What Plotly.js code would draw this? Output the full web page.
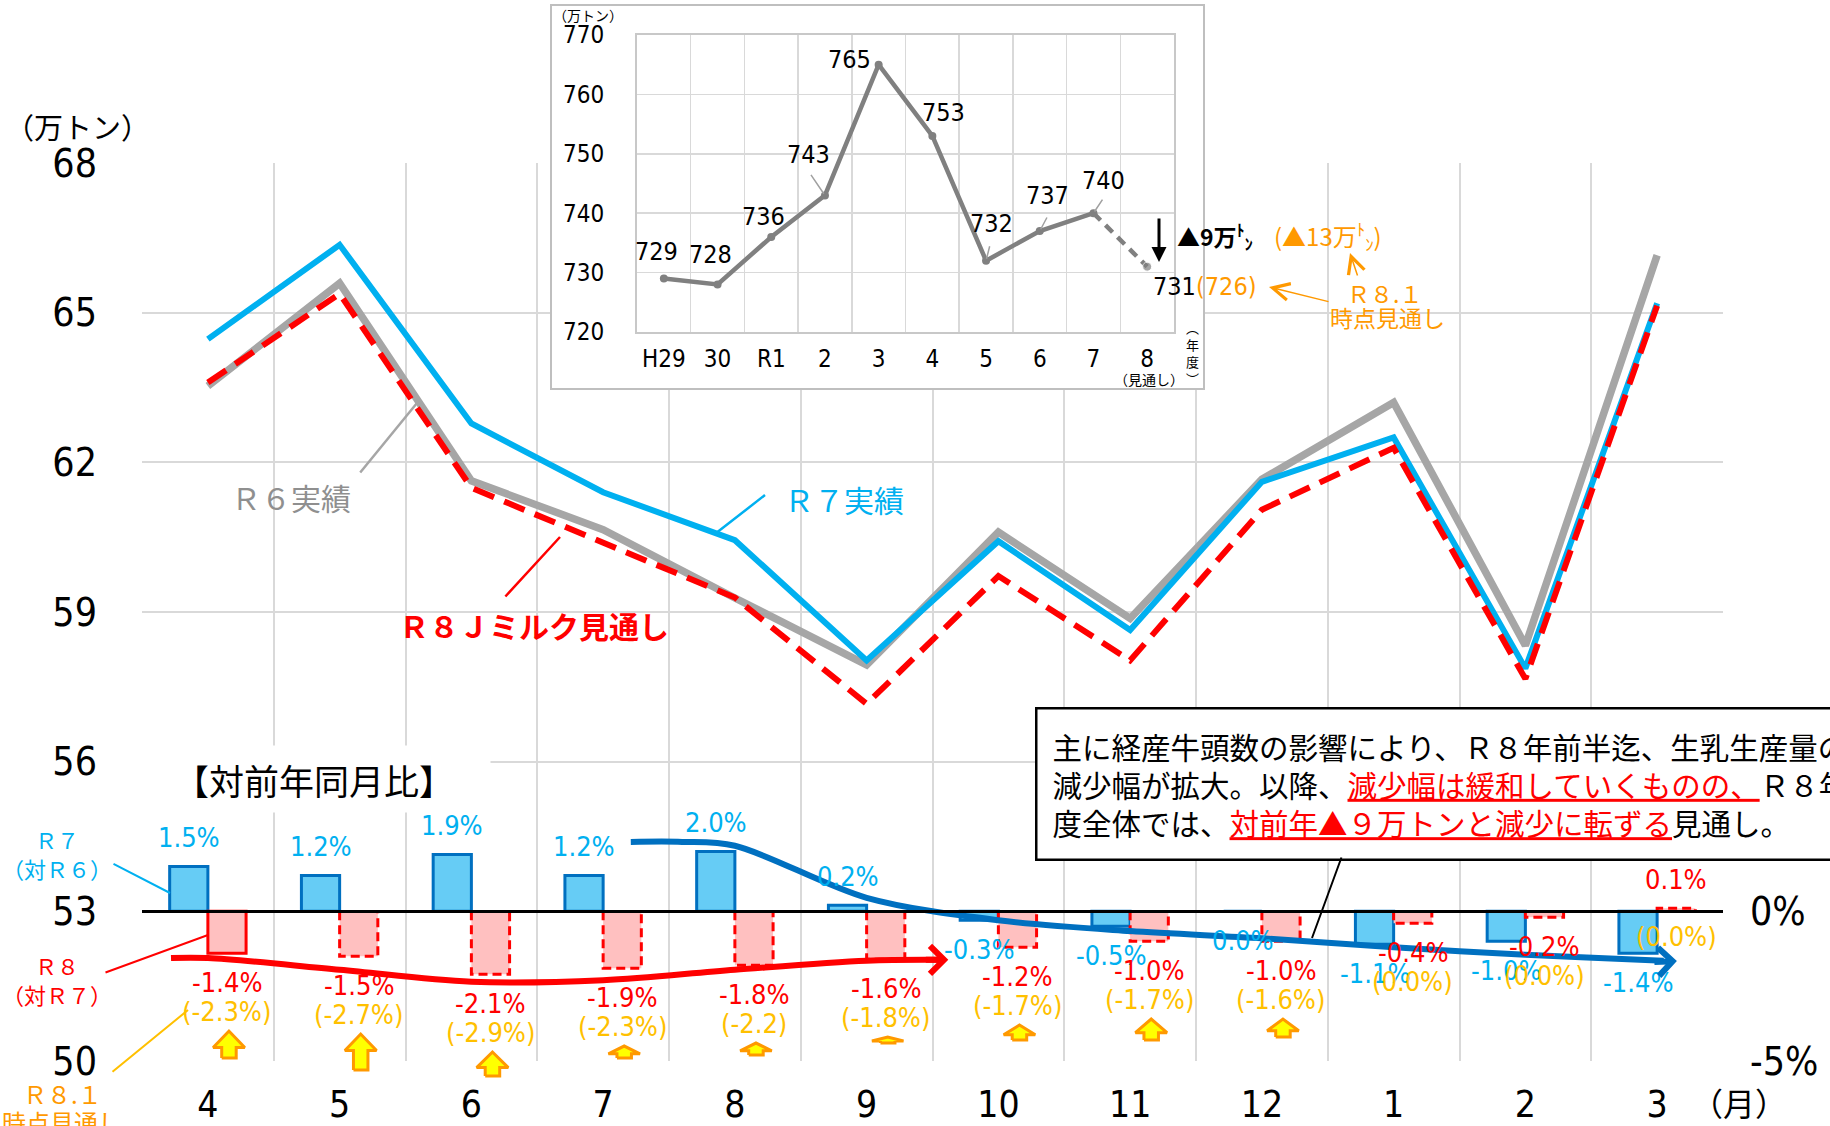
<!DOCTYPE html>
<html><head><meta charset="utf-8">
<script src="https://cdn.plot.ly/plotly-3.0.1.min.js"></script>
<style>html,body{margin:0;padding:0;background:#fff}#chart{width:1830px;height:1126px}</style>
</head><body><div id="chart"></div>
<script>
// ---------------- data ----------------
const months = ['4','5','6','7','8','9','10','11','12','1','2','3'];
const r6Actual   = [63.53,65.59,61.63,60.65,59.28,57.94,60.60,58.87,61.66,63.20,58.33,66.15];
const r7Actual   = [64.47,66.36,62.78,61.40,60.44,58.03,60.42,58.64,61.61,62.50,57.87,65.19];
const r8Forecast = [63.60,65.38,61.49,60.39,59.29,57.16,59.72,58.03,61.05,62.29,57.66,65.14];
const r7vsR6Pct  = [1.5,1.2,1.9,1.2,2.0,0.2,-0.3,-0.5,0.0,-1.1,-1.0,-1.4];
const r8vsR7Pct  = [-1.4,-1.5,-2.1,-1.9,-1.8,-1.6,-1.2,-1.0,-1.0,-0.4,-0.2,0.1];
const r8JanPct   = [-2.3,-2.7,-2.9,-2.3,-2.2,-1.8,-1.7,-1.7,-1.6,0.0,0.0,0.0];
const r8JanLabels = ['(-2.3%)','(-2.7%)','(-2.9%)','(-2.3%)','(-2.2)','(-1.8%)','(-1.7%)','(-1.7%)','(-1.6%)','(0.0%)','(0.0%)','(0.0%)'];
const r8TrendPct = [-1.56,-1.95,-2.35,-2.3,-1.95,-1.65];            // months 4..9
const r7TrendPct = [2.32,2.19,0.45,-0.3,-0.66,-0.9,-1.2,-1.45,-1.64]; // months 7..3
const fiscalYears = ['H29','30','R1','2','3','4','5','6','7','8'];
const annualTotal = [729,728,736,743,765,753,732,737,740,731];
const annualR8Jan = 726;

// ---------------- geometry / styles ----------------
const W=1830,H=1126,ML=142,MR=107,MT=4,MB=20;
const PW=W-ML-MR, PH=H-MT-MB, PB=H-MB;
const plotTop=163, plotBot=1061;
const fx=v=>(v-ML)/PW, fy=v=>(PB-v)/PH;
const yDom=[fy(plotBot), fy(plotTop)];
const pctPerPx=30/(plotBot-plotTop);
const y5min=-5-(PB-plotBot)*pctPerPx;
const NARROW='"Liberation Sans Narrow","Arial Narrow","DejaVu Sans Condensed","Noto Sans CJK JP",sans-serif';
const JP='"Noto Sans CJK JP","Noto Sans",sans-serif';
const GRID='#D9D9D9';
const idx=months.map((m,i)=>i);
const bounds=[]; for(let i=-0.5;i<=11.5;i+=1) bounds.push(i);
const idx4=fiscalYears.map((m,i)=>i);
const bounds4=[]; for(let i=-0.5;i<=9.5;i+=1) bounds4.push(i);
const BW=0.29;
const fmt=v=>(v<0?'-':'')+Math.abs(v).toFixed(1)+'%';

const traces=[];
// main lines
traces.push({x:idx,y:r6Actual,type:'scatter',mode:'lines',line:{color:'#A6A6A6',width:7.5},hoverinfo:'skip',name:'R6実績'});
traces.push({x:idx,y:r7Actual,type:'scatter',mode:'lines',line:{color:'#00B0F0',width:6},hoverinfo:'skip',name:'R7実績'});
traces.push({x:idx,y:r8Forecast,type:'scatter',mode:'lines',line:{color:'#FF0000',width:6,dash:'22px,11px'},hoverinfo:'skip',name:'R8見通し'});
// inset white panel
traces.push({x:[0,1,1,0,0],y:[0,0,1,1,0],xaxis:'x3',yaxis:'y3',type:'scatter',mode:'lines',fill:'toself',fillcolor:'#FFFFFF',line:{width:0,color:'#FFFFFF'},hoverinfo:'skip'});
// inset line
traces.push({x:idx4.slice(0,9),y:annualTotal.slice(0,9),xaxis:'x4',yaxis:'y4',type:'scatter',mode:'lines+markers',line:{color:'#808080',width:4.5},marker:{color:'#808080',size:8},hoverinfo:'skip'});
traces.push({x:idx4.slice(8),y:annualTotal.slice(8),xaxis:'x4',yaxis:'y4',type:'scatter',mode:'lines+markers',line:{color:'#808080',width:4.5,dash:'10px,7px'},marker:{color:'#808080',size:[0,9]},hoverinfo:'skip'});
// bars
traces.push({x:idx,y:r7vsR6Pct,yaxis:'y2',type:'bar',offset:-BW,width:BW,marker:{color:'#66CCF5',line:{color:'#0070C0',width:3}},hoverinfo:'skip'});
traces.push({x:idx,y:r8vsR7Pct,yaxis:'y2',type:'bar',offset:0,width:BW,marker:{color:'#FFC0C0',line:{color:'#FF0000',width:idx.map(i=>i===0?3:0)}},hoverinfo:'skip'});
// dashed outlines of forecast bars
const ox=[],oy=[];
r8vsR7Pct.forEach((v,i)=>{ if(i===0) return; ox.push(i,i,i+BW,i+BW,null); oy.push(0,v,v,0,null); });
traces.push({x:ox,y:oy,yaxis:'y2',type:'scatter',mode:'lines',line:{color:'#FF0000',width:3,dash:'9px,5px'},connectgaps:false,hoverinfo:'skip'});
// trend curves
traces.push({x:[-0.28,0,1,2,3,4,5,5.55],y:[r8TrendPct[0]].concat(r8TrendPct,[r8TrendPct[5]+0.03]),yaxis:'y2',type:'scatter',mode:'lines',line:{color:'#FF0000',width:6,shape:'spline',smoothing:1},hoverinfo:'skip'});
traces.push({x:[3.21,3.6,4,5,6,7,8,9,10,11,11.05],y:[r7TrendPct[0],r7TrendPct[0]].concat(r7TrendPct.slice(1),[r7TrendPct[8]-0.01]),yaxis:'y2',type:'scatter',mode:'lines',line:{color:'#0070C0',width:6,shape:'spline',smoothing:0.9},hoverinfo:'skip'});
// orange up arrows (change from R8.1 forecast)
const axs=[],ays=[];
r8vsR7Pct.forEach((v,i)=>{
  const f=r8JanPct[i];
  if(!(f<0 && v>f)) return;
  const base=f-2.6, tip=v-2.6, h=tip-base;
  const hh=Math.min(0.55,h*0.65), cx=i+0.16, sw=0.055, hw=0.12;
  axs.push(cx-sw,cx-sw,cx-hw,cx,cx+hw,cx+sw,cx+sw,cx-sw,null);
  ays.push(base,tip-hh,tip-hh,tip,tip-hh,tip-hh,base,base,null);
});
traces.push({x:axs,y:ays,xaxis:'x5',yaxis:'y5',type:'scatter',mode:'lines',fill:'toself',fillcolor:'#FFFF00',line:{color:'#FF9900',width:3},connectgaps:false,hoverinfo:'skip'});

// ---------------- annotations ----------------
const ann=[];
function txt(x,y,text,size,color,extra){ann.push(Object.assign({xref:'paper',yref:'paper',x:fx(x),y:fy(y),text:text,showarrow:false,xanchor:'center',yanchor:'middle',font:{family:JP,size:size,color:color}},extra||{}));}
function lead(x1,y1,x2,y2,color,width,head,size){ann.push({xref:'paper',yref:'paper',x:fx(x2),y:fy(y2),ax:x1-x2,ay:y1-y2,axref:'pixel',ayref:'pixel',text:'',showarrow:true,arrowhead:head||0,arrowsize:size||1,arrowcolor:color,arrowwidth:width,standoff:0,startstandoff:0});}

txt(77,126,'（万トン）',29,'#000');
txt(1739,1102,'（月）',32,'#000');
txt(291,497,'Ｒ６実績',30,'#8F8F8F');
lead(359,474,417,403,'#A6A6A6',2.5);
txt(844,499,'Ｒ７実績',30,'#00B0F0');
lead(715,534,765,495,'#00B0F0',2.5);
txt(534,625,'<b>Ｒ８Ｊミルク見通し</b>',30,'#FF0000');
lead(504,598,560,537,'#FF0000',2.5);
txt(314,779,'【対前年同月比】',35,'#000',{width:352,height:66,bgcolor:'#FFFFFF',borderpad:0});
txt(57,853,'Ｒ７<br>（対Ｒ６）',22,'#00B0F0');
lead(112,863,170,893,'#00B0F0',2);
txt(57,979,'Ｒ８<br>（対Ｒ７）',22,'#FF0000');
lead(104,973,208,935,'#FF0000',2);
txt(62,1093,'Ｒ８.１',24,'#FF9900');
txt(62,1121,'時点見通し',24,'#FF9900');
lead(111,1073,188,1010,'#FFC000',2);
// text box
ann.push({xref:'paper',yref:'paper',x:fx(1035),y:fy(707),xanchor:'left',yanchor:'top',align:'left',showarrow:false,
  text:'主に経産牛頭数の影響により、Ｒ８年前半迄、生乳生産量の<br>減少幅が拡大。以降、<span style="color:#FF0000"><u>減少幅は緩和していくものの、</u></span>Ｒ８年<br>度全体では、<span style="color:#FF0000"><u>対前年▲９万トンと減少に転ずる</u></span>見通し。',
  font:{family:JP,size:29.5,color:'#000'},bgcolor:'#FFFFFF',bordercolor:'#000',borderwidth:2.5,borderpad:15});
lead(1342,856,1312,938,'#000',2);

// bar value labels
r7vsR6Pct.forEach((v,i)=>{
  ann.push({xref:'x',yref:'y2',x:i-BW/2,y:v,text:fmt(v),showarrow:false,yshift:v>0?29:-29,font:{family:NARROW,size:27,color:'#00B0F0'}});
});
r8vsR7Pct.forEach((v,i)=>{
  ann.push({xref:'x',yref:'y2',x:i+BW/2,y:v,text:fmt(v),showarrow:false,yshift:v>0?29:-29,font:{family:NARROW,size:27,color:'#FF0000'}});
  ann.push({xref:'x',yref:'y2',x:i+BW/2,y:v>0?0:v,text:r8JanLabels[i],showarrow:false,yshift:v>0?-25:-58,font:{family:NARROW,size:27,color:'#FFC000'}});
});
// trend arrow heads
ann.push({xref:'x',yref:'y2',x:5.62,y:r8TrendPct[5]+0.03,ax:-24,ay:0,axref:'pixel',ayref:'pixel',text:'',showarrow:true,arrowhead:4,arrowsize:0.9,arrowwidth:6,arrowcolor:'#FF0000',standoff:0});
ann.push({xref:'x',yref:'y2',x:11.15,y:r7TrendPct[8]-0.02,ax:-24,ay:1,axref:'pixel',ayref:'pixel',text:'',showarrow:true,arrowhead:4,arrowsize:0.9,arrowwidth:6,arrowcolor:'#0070C0',standoff:0});

// inset labels
const insetLabelOffset=[[-7,-27],[-7,-30],[-8,-20],[-16,-41],[-29,-5],[11,-23],[5,-37],[8,-36],[10,-33],[27,20]];
const insetLeader=[null,null,null,[-15,-22],null,null,[4,-16],[8,-15],[10,-15],null];
annualTotal.forEach((v,i)=>{
  ann.push({xref:'x4',yref:'y4',x:i,y:v,text:String(v),showarrow:false,xshift:insetLabelOffset[i][0],yshift:-insetLabelOffset[i][1],font:{family:NARROW,size:25,color:'#000'}});
  if(insetLeader[i]) ann.push({xref:'x4',yref:'y4',x:i,y:v,ax:insetLeader[i][0],ay:insetLeader[i][1],axref:'pixel',ayref:'pixel',text:'',showarrow:true,arrowhead:0,arrowwidth:1.5,arrowcolor:'#A0A0A0',standoff:2});
});
txt(588,15,'（万トン）',14,'#000');
txt(1215,236,'<b>▲9万<sup>ﾄ</sup><sub>ﾝ</sub></b>',23,'#000');
txt(1328,236,'(▲13万<sup>ﾄ</sup><sub>ﾝ</sub>)',24,'#FF9900');
txt(1226,287,'('+annualR8Jan+')',25,'#FF9900',{font:{family:NARROW,size:25,color:'#FF9900'}});
txt(1384,293,'Ｒ８.１',23,'#FF9900');
txt(1387,317,'時点見通し',23,'#FF9900');
lead(1159,217,1159,262,'#000',3,2,1);
lead(1330,302,1269,287,'#FF9900',1.5,5,2.2);
lead(1358,277,1350,253,'#FF9900',1.5,5,2.2);
txt(1192,353,'︵<br>年<br>度<br>︶',13,'#000');
txt(1149,379,'（見通し）',14,'#000');

const layout={
  width:W,height:H,margin:{l:ML,r:MR,t:MT,b:MB},paper_bgcolor:'#FFFFFF',plot_bgcolor:'rgba(0,0,0,0)',
  showlegend:false,font:{family:JP,color:'#000'},barmode:'overlay',
  xaxis:{domain:[0,1],anchor:'y',range:[-0.5,11.5],tickmode:'array',tickvals:idx,ticktext:months,showgrid:false,zeroline:false,ticks:'',
    tickfont:{family:NARROW,size:37,color:'#000'},ticklabelstandoff:18,
    minor:{tickmode:'array',tickvals:bounds,showgrid:true,gridcolor:GRID,gridwidth:2,ticks:''}},
  yaxis:{domain:yDom,anchor:'x',range:[50,68],tickmode:'array',tickvals:[50,53,56,59,62,65,68],gridcolor:GRID,gridwidth:2,zeroline:false,ticks:'',
    tickfont:{family:NARROW,size:39,color:'#000'},ticklabelstandoff:44},
  yaxis2:{overlaying:'y',side:'right',anchor:'x',range:[-5,25],tickmode:'array',tickvals:[0,-5],ticktext:['0%','-5%'],showgrid:false,
    zeroline:true,zerolinecolor:'#000',zerolinewidth:2.5,zerolinelayer:'above traces',ticks:'',tickfont:{family:NARROW,size:39,color:'#000'},ticklabelstandoff:26},
  xaxis3:{domain:[fx(552),fx(1203)],anchor:'y3',range:[0,1],showgrid:false,zeroline:false,showticklabels:false,ticks:'',showline:true,mirror:true,linecolor:'#BFBFBF',linewidth:2},
  yaxis3:{domain:[fy(388),fy(6)],anchor:'x3',range:[0,1],showgrid:false,zeroline:false,showticklabels:false,ticks:'',showline:true,mirror:true,linecolor:'#BFBFBF',linewidth:2},
  xaxis4:{domain:[fx(637),fx(1174)],anchor:'y4',range:[-0.5,9.5],tickmode:'array',tickvals:idx4,ticktext:fiscalYears,showgrid:false,zeroline:false,ticks:'',
    showline:true,mirror:true,linecolor:'#C8C8C8',linewidth:2,tickfont:{family:NARROW,size:24,color:'#000'},ticklabelstandoff:4,
    minor:{tickmode:'array',tickvals:bounds4,showgrid:true,gridcolor:GRID,gridwidth:1.5,ticks:''}},
  yaxis4:{domain:[fy(332),fy(35)],anchor:'x4',range:[720,770],tickmode:'array',tickvals:[720,730,740,750,760,770],gridcolor:GRID,gridwidth:1.5,zeroline:false,ticks:'',
    showline:true,mirror:true,linecolor:'#C8C8C8',linewidth:2,tickfont:{family:NARROW,size:24,color:'#000'},ticklabelstandoff:26},
  xaxis5:{domain:[0,1],anchor:'y5',range:[-0.5,11.5],visible:false},
  yaxis5:{domain:[0,yDom[1]],anchor:'x5',range:[y5min,25],visible:false},
  annotations:ann
};
Plotly.newPlot('chart',traces,layout,{staticPlot:true,displayModeBar:false});
</script></body></html>
